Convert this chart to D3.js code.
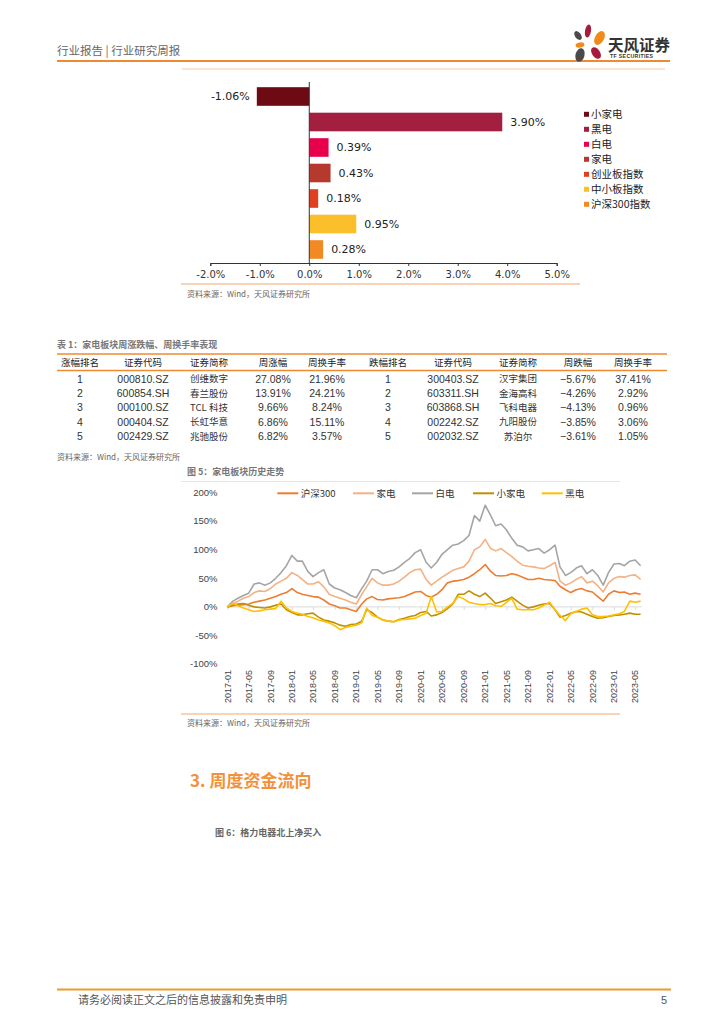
<!DOCTYPE html>
<html><head><meta charset="utf-8">
<script src="https://cdn.jsdelivr.net/npm/d3@7"></script>
<style>
body{margin:0;background:#fff;}
svg{display:block;}
text{font-family:"Liberation Sans","Noto Sans CJK SC",sans-serif;}
</style></head>
<body>
<svg id="page" width="724" height="1024"></svg>
<script>
// ---------- Bar chart data ----------
const barCategories = ["小家电","黑电","白电","家电","创业板指数","中小板指数","沪深300指数"];
const barValues = [-1.06, 3.90, 0.39, 0.43, 0.18, 0.95, 0.28];
const barColors = ["#6E0A14","#A21F3F","#E8004D","#B53A2D","#E0401F","#FBBF2C","#F28A24"];
const barTicks = [-2,-1,0,1,2,3,4,5];

// ---------- Table data ----------
const tableHeader = ["涨幅排名","证券代码","证券简称","周涨幅","周换手率","跌幅排名","证券代码","证券简称","周跌幅","周换手率"];
const upRank = ["1","2","3","4","5"];
const upCode = ["000810.SZ","600854.SH","000100.SZ","000404.SZ","002429.SZ"];
const upName = ["创维数字","春兰股份","TCL 科技","长虹华意","兆驰股份"];
const upChg = ["27.08%","13.91%","9.66%","6.86%","6.82%"];
const upTurn = ["21.96%","24.21%","8.24%","15.11%","3.57%"];
const downRank = ["1","2","3","4","5"];
const downCode = ["300403.SZ","603311.SH","603868.SH","002242.SZ","002032.SZ"];
const downName = ["汉宇集团","金海高科","飞科电器","九阳股份","苏泊尔"];
const downChg = ["\u22125.67%","\u22124.26%","\u22124.13%","\u22123.85%","\u22123.61%"];
const downTurn = ["37.41%","2.92%","0.96%","3.06%","1.05%"];

// ---------- Line chart data (monthly, 2017-01 .. 2023-06, cumulative %) ----------
const lineNames = ["沪深300","家电","白电","小家电","黑电"];
const lineColors = ["#ED7D31","#F4B183","#A5A5A5","#BF9000","#FFC000"];
const hs300 = [0,2,3,4,5,8,10,12,15,18,22,25,32,25,22,20,18,17,12,5,2,-2,-2,-5,-8,5,14,18,13,12,14,15,16,18,22,26,27,20,17,22,30,42,45,46,48,52,58,65,74,62,55,54,55,58,56,52,48,48,50,48,47,46,36,30,25,30,32,28,26,18,10,22,28,25,26,22,24,22];
const jiadian = [0,6,10,15,18,25,28,27,32,40,45,50,60,55,48,40,40,44,35,22,18,15,12,8,5,22,35,50,42,38,38,40,45,52,60,65,66,48,38,45,52,58,64,67,70,80,100,105,118,102,98,102,95,88,80,73,71,70,68,67,72,78,45,38,42,48,53,42,45,37,26,42,50,53,52,55,56,48];
const baidian = [0,10,15,20,24,40,42,38,42,50,60,72,90,80,80,62,53,60,65,40,33,30,25,20,16,32,45,65,65,58,62,64,70,78,85,95,100,78,68,78,92,100,108,110,116,125,160,150,178,160,142,145,135,120,108,105,98,100,102,94,100,108,70,55,60,68,72,58,65,55,38,60,75,76,72,80,82,72];
const xiaojiadian = [0,3,5,6,3,0,-1,-2,0,3,5,-5,-10,-14,-14,-12,-11,-18,-23,-25,-28,-32,-34,-31,-30,-25,-5,-10,-18,-23,-25,-26,-22,-20,-17,-15,-10,-8,-16,-14,-10,-3,5,22,22,28,22,18,24,15,6,9,12,17,10,3,-2,0,3,5,6,-5,-18,-15,-11,-8,-9,-13,-17,-20,-19,-17,-15,-14,-13,-11,-13,-13];
const heidian = [0,6,2,-2,-5,-8,-7,-5,-4,-3,10,-2,-8,-11,-13,-17,-19,-23,-25,-28,-33,-40,-36,-34,-32,-28,-2,-15,-18,-23,-25,-26,-23,-22,-21,-20,-15,-11,18,-9,-8,0,6,18,14,8,6,4,4,6,2,1,8,15,-4,-5,-5,-5,-2,3,8,-5,-15,-24,-12,-8,-4,-2,-14,-17,-17,-16,-14,-12,-8,10,8,10];
const xTickLabels = ["2017-01","2017-05","2017-09","2018-01","2018-05","2018-09","2019-01","2019-05","2019-09","2020-01","2020-05","2020-09","2021-01","2021-05","2021-09","2022-01","2022-05","2022-09","2023-01","2023-05"];
const yTicks = [200,150,100,50,0,-50,-100];

const svg = d3.select("#page");
const CJK = '"Noto Sans CJK SC","Liberation Sans",sans-serif';
const ORANGE = "#F08A30";

// ---------- Header ----------
svg.append("text").attr("x",57).attr("y",55).attr("font-size",11.5).attr("fill","#666")
  .style("font-family",CJK).text("行业报告 | 行业研究周报");
svg.append("line").attr("x1",57).attr("x2",670).attr("y1",61).attr("y2",61).attr("stroke",ORANGE).attr("stroke-width",2);
svg.append("line").attr("x1",182).attr("x2",665).attr("y1",69).attr("y2",69).attr("stroke","#F8C9A3").attr("stroke-width",1);
// logo petals
const petals = [
  {cx:588,cy:31,rx:3,ry:6.5,r:10,c:"#A51C3A"},
  {cx:578,cy:35.5,rx:3,ry:5,r:-35,c:"#4A4A4A"},
  {cx:599.5,cy:38,rx:4.5,ry:7.5,r:30,c:"#F08A1C"},
  {cx:580,cy:45,rx:4.5,ry:2.5,r:-10,c:"#F08A1C"},
  {cx:596,cy:53,rx:4,ry:6.5,r:-35,c:"#A51C3A"},
  {cx:580,cy:55,rx:4.5,ry:7,r:15,c:"#4A4A4A"}
];
svg.append("g").selectAll("ellipse").data(petals).join("ellipse")
  .attr("cx",d=>d.cx).attr("cy",d=>d.cy).attr("rx",d=>d.rx).attr("ry",d=>d.ry)
  .attr("transform",d=>`rotate(${d.r},${d.cx},${d.cy})`).attr("fill",d=>d.c);
svg.append("text").attr("x",608).attr("y",51).attr("font-size",15.5).attr("font-weight","bold")
  .attr("fill","#333").style("font-family",CJK).text("天风证券");
svg.append("text").attr("x",610).attr("y",58).attr("font-size",5.2).attr("font-weight","bold")
  .attr("fill","#333").attr("textLength",43).text("TF SECURITIES");

// ---------- Bar chart ----------
const bx = d3.scaleLinear().domain([-2,5]).range([210.3,556.7]);
const by = d3.scaleBand().domain(barCategories).range([83.75,262.25]).paddingInner(0.27).paddingOuter(0.135);
const bg = svg.append("g");
bg.selectAll("rect").data(barCategories).join("rect")
  .attr("x",(d,i)=>bx(Math.min(0,barValues[i])))
  .attr("width",(d,i)=>Math.abs(bx(barValues[i])-bx(0)))
  .attr("y",d=>by(d)).attr("height",by.bandwidth())
  .attr("fill",(d,i)=>barColors[i]);
bg.selectAll("text.lbl").data(barCategories).join("text").attr("class","lbl")
  .attr("x",(d,i)=>barValues[i]<0? bx(barValues[i])-7 : bx(barValues[i])+8)
  .attr("y",d=>by(d)+by.bandwidth()/2).attr("dy","0.35em")
  .attr("text-anchor",(d,i)=>barValues[i]<0?"end":"start")
  .attr("font-size",11).attr("fill","#222").style("font-family","'DejaVu Sans',sans-serif")
  .text((d,i)=>barValues[i].toFixed(2)+"%");
const bAxis = d3.axisBottom(bx).tickValues(barTicks).tickSize(3).tickFormat(d=>d.toFixed(1)+"%");
const bAxG = bg.append("g").attr("transform","translate(0,263)").call(bAxis);
bAxG.select(".domain").attr("stroke","#333");
bAxG.selectAll(".tick line").attr("stroke","#333");
bAxG.selectAll(".tick text").attr("font-size",10).attr("fill","#333").attr("dy","0.9em")
  .style("font-family","'DejaVu Sans',sans-serif");
bg.append("line").attr("x1",bx(0)).attr("x2",bx(0)).attr("y1",82).attr("y2",263).attr("stroke","#333");
// legend
const bl = bg.append("g").selectAll("g").data(barCategories).join("g")
  .attr("transform",(d,i)=>`translate(584,${114.3+i*15})`);
bl.append("rect").attr("x",0).attr("y",-2.5).attr("width",5).attr("height",5).attr("fill",(d,i)=>barColors[i]);
bl.append("text").attr("x",7).attr("y",0).attr("dy","0.35em").attr("font-size",10.5).attr("fill","#222")
  .style("font-family",CJK).text(d=>d);
svg.append("line").attr("x1",181).attr("x2",580).attr("y1",284).attr("y2",284).attr("stroke","#F4A46A").attr("stroke-width",1);
svg.append("text").attr("x",187).attr("y",297).attr("font-size",8).attr("fill","#666")
  .style("font-family",CJK).text("资料来源：Wind，天风证券研究所");

// ---------- Table ----------
svg.append("text").attr("x",57).attr("y",348).attr("font-size",9).attr("font-weight","bold").attr("fill","#777")
  .style("font-family",CJK).text("表 1：家电板块周涨跌幅、周换手率表现");
svg.append("line").attr("x1",57).attr("x2",667).attr("y1",354).attr("y2",354).attr("stroke",ORANGE).attr("stroke-width",1.5);
svg.append("line").attr("x1",57).attr("x2",667).attr("y1",370.5).attr("y2",370.5).attr("stroke",ORANGE).attr("stroke-width",1.5);
const colX = [80,143,209,273,327,388,453,518,578,633];
svg.append("g").selectAll("text").data(tableHeader).join("text")
  .attr("x",(d,i)=>colX[i]).attr("y",362.3).attr("dy","0.35em").attr("text-anchor","middle")
  .attr("font-size",9.5).attr("fill","#222").style("font-family",CJK).text(d=>d);
const cols = [upRank,upCode,upName,upChg,upTurn,downRank,downCode,downName,downChg,downTurn];
const cjkCols = [2,7];
const rowY = [379,393.3,407.7,421.9,436.2];
const tg = svg.append("g");
cols.forEach((col,ci)=>{
  const isCJK = cjkCols.includes(ci);
  tg.selectAll(null).data(col).join("text")
    .attr("x",colX[ci]).attr("y",(d,ri)=>rowY[ri]).attr("dy","0.35em").attr("text-anchor","middle")
    .attr("font-size",isCJK?9.5:10.5).attr("fill","#333")
    .style("font-family",isCJK?CJK:'"Liberation Sans","Noto Sans CJK SC",sans-serif')
    .text(d=>d);
});
svg.append("text").attr("x",57).attr("y",460).attr("font-size",8).attr("fill","#666")
  .style("font-family",CJK).text("资料来源：Wind，天风证券研究所");

// ---------- Line chart ----------
svg.append("text").attr("x",187).attr("y",474.5).attr("font-size",9).attr("font-weight","bold").attr("fill","#777")
  .style("font-family",CJK).text("图 5：家电板块历史走势");
svg.append("line").attr("x1",181).attr("x2",620).attr("y1",481.5).attr("y2",481.5).attr("stroke","#FBE0CC").attr("stroke-width",1);
const months = d3.timeMonth.range(new Date(2017,0,1), new Date(2023,6,1));
const lx = d3.scaleTime().domain([new Date(2017,0,1), new Date(2023,5,1)]).range([227.5,640.6]);
const ly = d3.scaleLinear().domain([-100,200]).range([664,492.6]);
const lg = svg.append("g");
// y labels
lg.selectAll("text.yl").data(yTicks).join("text").attr("class","yl")
  .attr("x",217.5).attr("y",d=>ly(d)).attr("dy","0.35em").attr("text-anchor","end")
  .attr("font-size",9.5).attr("fill","#444").text(d=>d+"%");
// x axis at 0
const tickDates = xTickLabels.map(s=>new Date(+s.slice(0,4), +s.slice(5)-1, 1));
const lAxis = d3.axisBottom(lx).tickValues(tickDates).tickSize(3).tickFormat("");
const lAxG = lg.append("g").attr("transform",`translate(0,${ly(0)})`).call(lAxis);
lAxG.select(".domain").attr("stroke","#D9D9D9").attr("d",`M${lx.range()[0]-1},0H${lx.range()[1]+1}`);
lAxG.selectAll(".tick line").attr("stroke","#D9D9D9");
lg.selectAll("text.xl").data(xTickLabels).join("text").attr("class","xl")
  .attr("transform",(d,i)=>`translate(${lx(tickDates[i])},670) rotate(-90)`)
  .attr("dy","0.35em").attr("text-anchor","end").attr("font-size",9).attr("fill","#444").text(d=>d);
// lines (draw order: 白电, 家电, 沪深300, 小家电, 黑电)
const seriesArr = [hs300,jiadian,baidian,xiaojiadian,heidian];
const lineGen = d3.line().x((d,i)=>lx(months[i])).y(d=>ly(d)).curve(d3.curveLinear);
[2,1,0,3,4].forEach(k=>{
  lg.append("path").datum(seriesArr[k]).attr("d",lineGen).attr("fill","none")
    .attr("stroke",lineColors[k]).attr("stroke-width",1.6).attr("stroke-linejoin","round");
});
// legend
const legX = [277.3,353,412,473,541.7];
const lgl = lg.selectAll("g.leg").data(lineNames).join("g").attr("class","leg")
  .attr("transform",(d,i)=>`translate(${legX[i]},493.3)`);
lgl.append("line").attr("x1",0).attr("x2",21).attr("stroke",(d,i)=>lineColors[i]).attr("stroke-width",2);
lgl.append("text").attr("x",23.5).attr("dy","0.35em").attr("font-size",9.5).attr("fill","#333")
  .style("font-family",CJK).text(d=>d);
svg.append("line").attr("x1",181).attr("x2",620).attr("y1",714).attr("y2",714).attr("stroke","#F4A46A").attr("stroke-width",1);
svg.append("text").attr("x",187).attr("y",726).attr("font-size",8).attr("fill","#666")
  .style("font-family",CJK).text("资料来源：Wind，天风证券研究所");

// ---------- Section title ----------
svg.append("text").attr("x",190).attr("y",787).attr("font-size",17).attr("font-weight","bold").attr("fill","#F3913A")
  .style("font-family",CJK).text("3. 周度资金流向");
svg.append("text").attr("x",215).attr("y",836).attr("font-size",9).attr("font-weight","bold").attr("fill","#666")
  .style("font-family",CJK).text("图 6：格力电器北上净买入");

// ---------- Footer ----------
svg.append("line").attr("x1",57).attr("x2",671).attr("y1",989.5).attr("y2",989.5).attr("stroke","#EE9A2D").attr("stroke-width",2);
svg.append("text").attr("x",78).attr("y",1004).attr("font-size",11).attr("fill","#555")
  .style("font-family",CJK).text("请务必阅读正文之后的信息披露和免责申明");
svg.append("text").attr("x",667).attr("y",1004).attr("text-anchor","end").attr("font-size",11).attr("fill","#555").text("5");
</script>
</body></html>
